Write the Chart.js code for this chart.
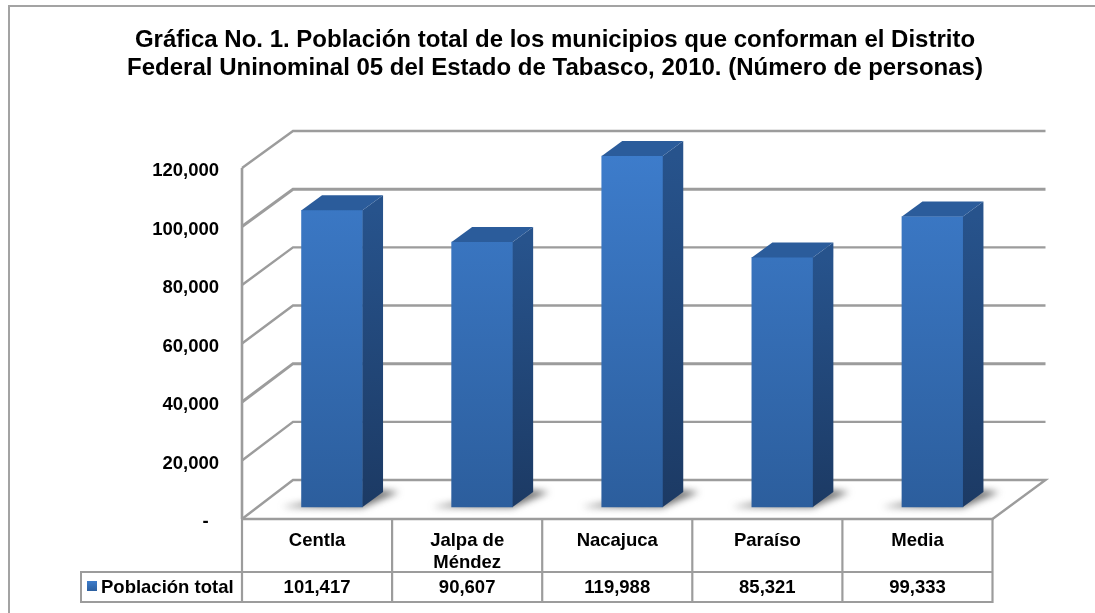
<!DOCTYPE html>
<html lang="es"><head><meta charset="utf-8">
<style>html,body{margin:0;padding:0;background:#fff}canvas{display:block}</style>
<script src="https://cdn.jsdelivr.net/npm/chart.js@4"></script>
</head><body><canvas id="c" width="1095" height="613"></canvas>
<script>
const titleLines = ["Gráfica No. 1. Población total de los municipios que conforman el Distrito",
                    "Federal Uninominal 05 del Estado de Tabasco, 2010. (Número de personas)"];
const categories = [["Centla"], ["Jalpa de", "Méndez"], ["Nacajuca"], ["Paraíso"], ["Media"]];
const seriesName = "Población total";
const seriesValues = [101417, 90607, 119988, 85321, 99333];
const yTicks = [0, 20000, 40000, 60000, 80000, 100000, 120000];

const FONT = '"Liberation Sans", Arial, sans-serif';
const GRID = '#9c9c9c';
const DEPTH = {x: 51, y: 39, yTop: 37}; // wall / floor depth
const BAR = {x: 15, y: 12, dx: 20.5, dy: 15}; // bar offset into floor, and bar depth
const fmt = v => v.toLocaleString('en-US');

function line(ctx, pts, w, col) {
  ctx.beginPath(); pts.forEach((p, i) => i ? ctx.lineTo(p[0], p[1]) : ctx.moveTo(p[0], p[1]));
  ctx.lineWidth = w; ctx.strokeStyle = col || GRID; ctx.lineCap = 'butt'; ctx.lineJoin = 'miter'; ctx.stroke();
}
function poly(ctx, pts, fill) {
  ctx.beginPath(); pts.forEach((p, i) => i ? ctx.lineTo(p[0], p[1]) : ctx.moveTo(p[0], p[1]));
  ctx.closePath(); ctx.fillStyle = fill; ctx.fill();
}

const threeD = {
  id: 'threeD',
  beforeDraw(chart) {
    const {ctx, width, height} = chart;
    ctx.save();
    ctx.fillStyle = '#fff'; ctx.fillRect(0, 0, width, height);
    line(ctx, [[9, height], [9, 6], [width, 6]], 2, '#a3a3a3');
    ctx.restore();
  },
  beforeDatasetsDraw(chart) {
    const {ctx, chartArea: a, scales: {y}} = chart;
    ctx.save();
    const maxV = yTicks[yTicks.length - 1];
    yTicks.forEach(t => {
      if (t === 0) return;
      const py = y.getPixelForValue(t);
      const d = DEPTH.y + (DEPTH.yTop - DEPTH.y) * t / maxV;
      line(ctx, [[a.left, py], [a.left + DEPTH.x, py - d], [a.right + DEPTH.x + 2, py - d]], t === 40000 || t === 100000 ? 3 : 2.4);
    });
    const p0 = y.getPixelForValue(0);
    // floor
    line(ctx, [[a.left, p0], [a.left + DEPTH.x, p0 - DEPTH.y], [a.right + DEPTH.x + 2, p0 - DEPTH.y], [a.right, p0]], 2.4);
    // left wall
    line(ctx, [[a.left, y.getPixelForValue(maxV)], [a.left, p0]], 2.6);
    // bar shadows on the floor
    const meta = chart.getDatasetMeta(0);
    meta.data.forEach(el => {
      const {x, width: w, base} = el.getProps(['x', 'width', 'base'], true);
      const l = x + BAR.x - w / 2, r = x + BAR.x + w / 2, b = base - BAR.y;
      ctx.save();
      ctx.filter = 'blur(3.5px)';
      poly(ctx, [[l - 20, b], [r, b + 0.5], [r + BAR.dx + 16, b - BAR.dy], [r + BAR.dx - 2, b - BAR.dy - 2]], 'rgba(90,90,90,0.85)');
      ctx.restore();
    });
    ctx.restore();
  },
  beforeDatasetDraw(chart) {
    chart.ctx.save();
    chart.ctx.translate(BAR.x, -BAR.y);
  },
  afterDatasetDraw(chart, args) {
    const {ctx} = chart;
    args.meta.data.forEach(el => {
      const {x, y, width: w, base} = el.getProps(['x', 'y', 'width', 'base'], true);
      const l = x - w / 2, r = x + w / 2;
      const g = ctx.createLinearGradient(0, y, 0, base);
      g.addColorStop(0, '#27538c'); g.addColorStop(1, '#1c3a64');
      poly(ctx, [[r, y], [r + BAR.dx, y - BAR.dy], [r + BAR.dx, base - BAR.dy], [r, base]], g);
      poly(ctx, [[l, y], [l + BAR.dx, y - BAR.dy], [r + BAR.dx, y - BAR.dy], [r, y]], '#2b5c9b');
    });
    ctx.restore();
  },
  afterDraw(chart) {
    const {ctx, chartArea: a, scales: {x, y}} = chart;
    const p0 = y.getPixelForValue(0);
    const rowTop = 572, rowBot = 602, legL = 81;
    ctx.save();
    const cell = (a.right - a.left) / categories.length;
    // table frame
    line(ctx, [[legL, rowTop], [a.right, rowTop]], 2.2);
    line(ctx, [[legL, rowBot], [a.right, rowBot]], 2.2);
    line(ctx, [[legL, rowTop - 1], [legL, rowBot + 1]], 2);
    line(ctx, [[a.left, p0], [a.left, rowBot + 1]], 2.2);
    for (let i = 1; i <= categories.length; i++) {
      const cx = a.left + cell * i;
      line(ctx, [[cx, p0], [cx, rowBot + 1]], 2.2);
    }
    // front edge of floor
    line(ctx, [[a.left - 1, p0], [a.right + 1, p0]], 2.6);
    // legend key + values row
    const g = ctx.createLinearGradient(0, 581, 0, 591);
    g.addColorStop(0, '#3d7ccb'); g.addColorStop(1, '#2c5f9f');
    ctx.fillStyle = g; ctx.fillRect(87, 581, 10, 10);
    ctx.fillStyle = '#000'; ctx.font = 'bold 18.5px ' + FONT;
    ctx.textBaseline = 'middle'; ctx.textAlign = 'left';
    ctx.fillText(seriesName, 101, 588);
    ctx.textAlign = 'center';
    seriesValues.forEach((v, i) => ctx.fillText(fmt(v), x.getPixelForValue(i), 588));
    ctx.restore();
  }
};

const cv = document.getElementById('c');
const faceColor = ctx => {
  const area = ctx.chart.chartArea;
  if (!area) return '#3568ad';
  const g = ctx.chart.ctx.createLinearGradient(0, area.top, 0, area.bottom);
  g.addColorStop(0, '#3d7ccb'); g.addColorStop(1, '#2c5e9d');
  return g;
};

new Chart(cv, {
  type: 'bar',
  data: {
    labels: categories,
    datasets: [{label: seriesName, data: seriesValues, backgroundColor: faceColor,
      barThickness: 61, borderWidth: 0, clip: false}]
  },
  plugins: [threeD],
  options: {
    responsive: false, animation: false, devicePixelRatio: 1,
    layout: {padding: {left: 15, right: 0, top: 0, bottom: 0}},
    plugins: {
      legend: {display: false},
      tooltip: {enabled: false},
      title: {display: true, text: titleLines, color: '#000',
        font: {family: FONT, size: 24, weight: 'bold', lineHeight: 1.167},
        padding: {top: 26, bottom: 86}}
    },
    scales: {
      x: {
        offset: true,
        grid: {display: false, drawTicks: false},
        border: {display: false},
        ticks: {color: '#000', autoSkip: false, maxRotation: 0, minRotation: 0, padding: 11,
          font: {family: FONT, size: 18.5, weight: 'bold', lineHeight: 1.18}},
        afterFit(s) { s.height = 94; }
      },
      y: {
        min: 0, max: 120000,
        grid: {display: false, drawTicks: false},
        border: {display: false},
        ticks: {color: '#000', padding: 23, stepSize: 20000, labelOffset: 3,
          font: {family: FONT, size: 18.5, weight: 'bold'},
          callback: v => v === 0 ? '-\u00a0\u00a0' : fmt(v)},
        afterFit(s) { s.width = 227; }
      },
      pad: {
        position: 'right', display: true,
        grid: {display: false, drawTicks: false},
        border: {display: false},
        ticks: {display: false},
        afterFit(s) { s.width = 102.5; }
      }
    }
  }
});
</script></body></html>
